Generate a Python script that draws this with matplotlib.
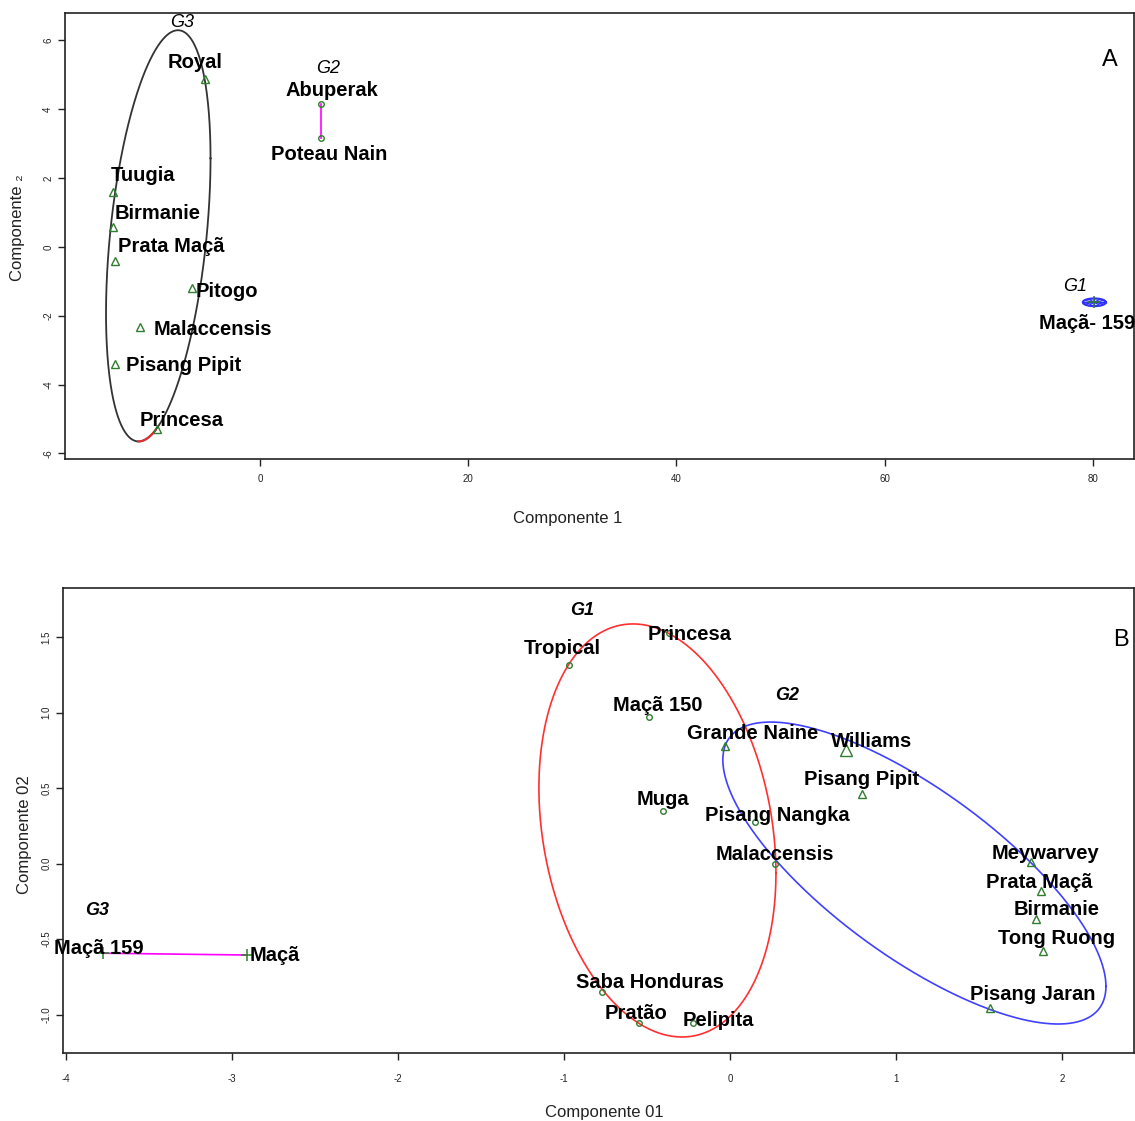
import numpy as np
import matplotlib
matplotlib.use("Agg")
import matplotlib.pyplot as plt

plt.rcParams['font.family'] = ['Liberation Sans', 'DejaVu Sans']

# ---------------- Panel A data ----------------
a_names = ["Royal", "Abuperak", "Poteau Nain", "Tuugia", "Birmanie", "Prata Maçã",
           "Pitogo", "Malaccensis", "Pisang Pipit", "Princesa", "Maçã- 159"]
a_x = [-5.28, 5.86, 5.86, -14.09, -14.09, -13.96, -6.53, -11.5, -13.96, -9.92, 80.15]
a_y = [4.86, 4.16, 3.16, 1.58, 0.58, -0.42, -1.19, -2.33, -3.41, -5.30, -1.61]
a_marker = ['^', 'o', 'o', '^', '^', '^', '^', '^', '^', '^', '+']
a_xticks = [0, 20, 40, 60, 80]
a_yticks = [-6, -4, -2, 0, 2, 4, 6]
a_groups = ["G3", "G2", "G1"]
# ellipse G3: center x, center y, sd x, sd y, correlation
a_g3_ell = [-9.77, 0.32, 5.02, 5.97, 0.377]
a_g1_ell = [80.15, -1.61, 1.1, 0.11]

# ---------------- Panel B data ----------------
b_names = ["Tropical", "Princesa", "Maçã 150", "Grande Naine", "Williams", "Pisang Pipit",
           "Muga", "Pisang Nangka", "Malaccensis", "Saba Honduras", "Pratão", "Pelipita",
           "Meywarvey", "Prata Maçã", "Birmanie", "Tong Ruong", "Pisang Jaran",
           "Maçã 159", "Maçã"]
b_x = [-0.970, -0.367, -0.486, -0.030, 0.697, 0.793, -0.405, 0.151, 0.271, -0.769,
       -0.546, -0.225, 1.811, 1.872, 1.843, 1.887, 1.566, -3.779, -2.911]
b_y = [1.316, 1.528, 0.970, 0.777, 0.753, 0.460, 0.347, 0.274, -0.004, -0.848,
       -1.057, -1.053, 0.009, -0.179, -0.366, -0.576, -0.958, -0.593, -0.605]
b_marker = ['o', 'o', 'o', '^', '^', '^', 'o', 'o', 'o', 'o', 'o', 'o',
            '^', '^', '^', '^', '^', '+', '+']
b_xticks = [-4, -3, -2, -1, 0, 1, 2]
b_yticks = [-1.0, -0.5, 0.0, 0.5, 1.0, 1.5]
b_groups = ["G1", "G2", "G3"]
b_g1_ell = [-0.437, 0.22, 0.714, 1.368, -0.207]
b_g2_ell = [1.111, -0.062, 1.154, 1.0, -0.75]

# ---------------- layout (pixel offsets of labels, positions) ----------------
a_off = [(-10, 19), (11, 15), (8, -14), (30, 19), (44, 15), (57, 17), (35, -2),
         (73, 0), (69, 1), (25, 11), (-7, -19)]
a_group_pos = [(-7.52, 6.52), (6.56, 5.17), (78.3, -1.14)]
b_off = [(-7, 18), (21, 0), (8, 14), (28, 15), (26, 10), (0, 17), (0, 14), (22, 9),
         (0, 12), (48, 11), (-3, 12), (26, 4), (15, 11), (-1, 10), (21, 11), (13, 14),
         (43, 16), (-4, 7), (28, 2)]
b_group_pos = [(-0.893, 1.675), (0.342, 1.117), (-3.815, -0.307)]

W, H = 1135, 1121
fig = plt.figure(figsize=(W / 100, H / 100), dpi=100)

def axes_px(l, t, r, b):
    return fig.add_axes([l / W, 1 - b / H, (r - l) / W, (b - t) / H])

def ellipse(cx, cy, sx, sy, r, n=500):
    t = np.linspace(0, 2 * np.pi, n)
    x = cx + sx * np.cos(t)
    y = cy + sy * (r * np.cos(t) + np.sqrt(1 - r * r) * np.sin(t))
    return x, y

green = '#2f7d2f'
lblfont = dict(fontsize=14.5, fontweight='bold', color='black')

def draw_points(ax, xs, ys, markers, names, offs, big=None):
    for i, (x, y, m, n, o) in enumerate(zip(xs, ys, markers, names, offs)):
        if m == 'o':
            ax.plot(x, y, 'o', mfc='none', mec=green, ms=4, mew=1.0, zorder=4)
        elif m == '^':
            ms = 9 if (big is not None and n == big) else 6
            ax.plot(x, y, '^', mfc='none', mec=green, ms=ms, mew=1.0, zorder=4)
        else:
            ax.plot(x, y, '+', color=green, ms=9, mew=1.1, zorder=4)
        ax.annotate(n, (x, y), xytext=(o[0], o[1] - 2), textcoords='offset pixels',
                    ha='center', va='center', zorder=5, **lblfont)

def style(ax):
    for s in ax.spines.values():
        s.set_linewidth(1.2)
        s.set_color('#222222')
    ax.tick_params(direction='out', length=5, width=1, labelsize=7, colors='#222222')
    ax.tick_params(axis='y', labelrotation=90)
    for lab in ax.get_yticklabels():
        lab.set_va('center')

# ---------------- Panel A ----------------
axA = axes_px(65, 13, 1134, 459)
axA.set_xlim(-18.73, 83.96)
axA.set_ylim(-6.16, 6.79)
axA.set_xticks(a_xticks)
axA.set_yticks(a_yticks)
axA.set_xticklabels([str(v) for v in a_xticks])
axA.set_yticklabels([str(v) for v in a_yticks])
style(axA)
axA.tick_params(axis='x', pad=6)

ex, ey = ellipse(*a_g3_ell)
axA.plot(ex, ey, color='#333333', lw=1.3, zorder=2)
mask = (ex > -11.7) & (ex < -10.0) & (ey < a_g3_ell[1])
order = np.argsort(ex[mask])
axA.plot(ex[mask][order], ey[mask][order], color='#e03030', lw=1.6, zorder=3)

# G1 small blue ellipse
cx, cy, rx, ry = a_g1_ell
t = np.linspace(0, 2 * np.pi, 200)
axA.plot(cx + rx * np.cos(t), cy + ry * np.sin(t), color='#3030ff', lw=1.6, zorder=3)
for ang in np.linspace(0, np.pi, 6, endpoint=False):
    axA.plot([cx - rx * np.cos(ang), cx + rx * np.cos(ang)],
             [cy - ry * np.sin(ang), cy + ry * np.sin(ang)], color='#3030ff', lw=0.9, zorder=3)

# G2 line
axA.plot([a_x[1], a_x[2]], [a_y[1], a_y[2]], color='#ff00ff', lw=1.2, zorder=3)

draw_points(axA, a_x, a_y, a_marker, a_names, a_off)
for g, (gx, gy) in zip(a_groups, a_group_pos):
    axA.text(gx, gy, g, ha='center', va='center', fontsize=13, style='italic', color='black')
fig.text(1110 / W, 1 - 60 / H, "A", fontsize=17, ha='center', va='center')
fig.text(568 / W, 1 - 518 / H, "Componente 1", fontsize=12, ha='center', va='center', color='#222222')
fig.text(18 / W, 1 - 228 / H, "Componente ₂", fontsize=12, ha='center', va='center', rotation=90,
         color='#222222')

# ---------------- Panel B ----------------
axB = axes_px(63, 588, 1134, 1053)
axB.set_xlim(-4.018, 2.434)
axB.set_ylim(-1.254, 1.826)
axB.set_xticks(b_xticks)
axB.set_yticks(b_yticks)
axB.set_xticklabels([str(v) for v in b_xticks])
axB.set_yticklabels(["%.1f" % v for v in b_yticks])
style(axB)
axB.tick_params(axis='x', pad=10)

ex, ey = ellipse(*b_g1_ell)
axB.plot(ex, ey, color='#ff3030', lw=1.2, zorder=2)
ex, ey = ellipse(*b_g2_ell)
axB.plot(ex, ey, color='#4040ff', lw=1.2, zorder=2)
axB.plot([b_x[17], b_x[18]], [b_y[17], b_y[18]], color='#ff00ff', lw=1.2, zorder=3)

draw_points(axB, b_x, b_y, b_marker, b_names, b_off, big="Williams")
for g, (gx, gy) in zip(b_groups, b_group_pos):
    axB.text(gx, gy, g, ha='center', va='center', fontsize=13, style='italic',
             fontweight='bold', color='black')
fig.text(1121 / W, 1 - 640 / H, "B", fontsize=17, ha='center', va='center')
fig.text(604 / W, 1 - 1112 / H, "Componente 01", fontsize=12, ha='center', va='center', color='#222222')
fig.text(25 / W, 1 - 835 / H, "Componente 02", fontsize=12, ha='center', va='center', rotation=90,
         color='#222222')

fig.savefig("out.png", dpi=100, facecolor='white')
